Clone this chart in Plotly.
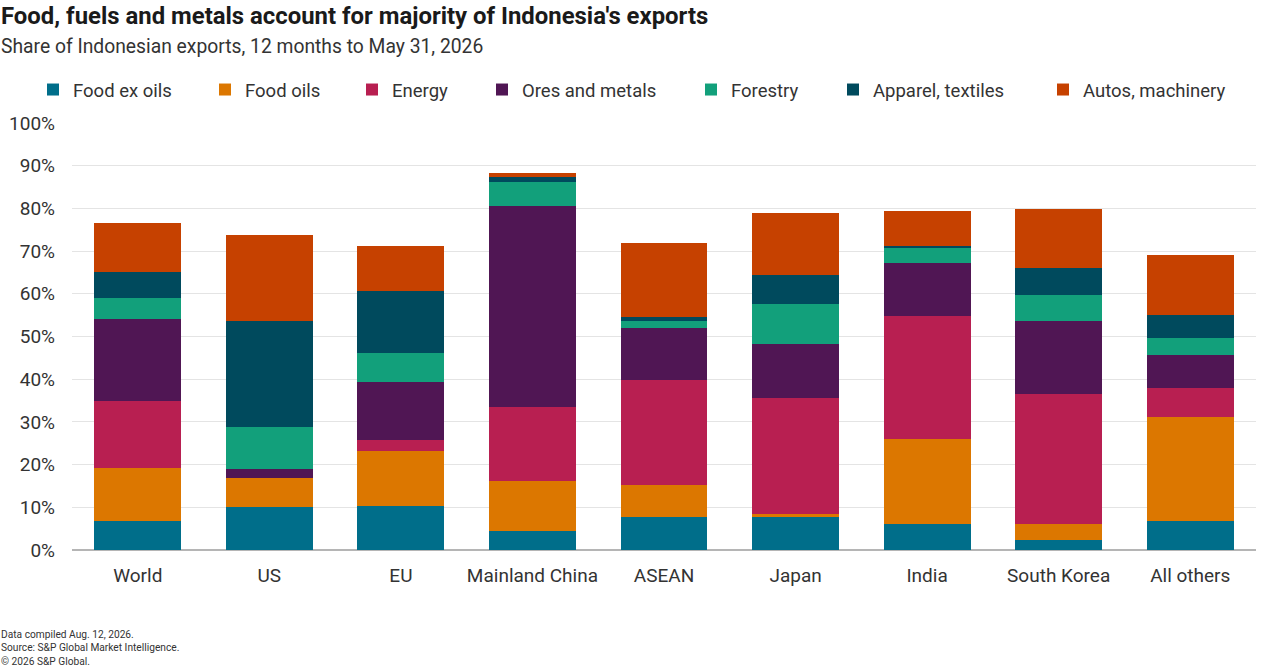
import plotly.graph_objects as go

categories = ["World", "US", "EU", "Mainland China", "ASEAN", "Japan", "India", "South Korea", "All others"]

food_ex_oils = [6.9, 10.0, 10.2, 4.5, 7.7, 7.7, 6.2, 2.4, 6.9]
food_oils = [12.4, 6.9, 13.1, 11.6, 7.5, 0.8, 19.7, 3.8, 24.3]
energy = [15.5, 0.0, 2.5, 17.5, 24.5, 27.1, 29.0, 30.3, 6.7]
ores_metals = [19.2, 2.0, 13.5, 47.0, 12.3, 12.7, 12.2, 17.2, 7.7]
forestry = [5.1, 9.8, 6.8, 5.7, 1.6, 9.2, 3.7, 6.0, 4.1]
apparel_textiles = [6.1, 25.0, 14.6, 1.1, 1.0, 6.8, 0.4, 6.4, 5.3]
autos_machinery = [11.4, 20.1, 10.6, 0.9, 17.2, 14.7, 8.1, 13.8, 14.1]

series_names = ["Food ex oils", "Food oils", "Energy", "Ores and metals", "Forestry", "Apparel, textiles", "Autos, machinery"]
series_values = [food_ex_oils, food_oils, energy, ores_metals, forestry, apparel_textiles, autos_machinery]
series_colors = ["#006E8A", "#DC7700", "#B81F51", "#501654", "#12A07B", "#004A5D", "#C64100"]

y_ticks = [0, 10, 20, 30, 40, 50, 60, 70, 80, 90, 100]
y_tick_labels = ["0%", "10%", "20%", "30%", "40%", "50%", "60%", "70%", "80%", "90%", "100%"]

FONT = "Roboto"
W, H = 1280, 670
ML, MR, MT, MB = 72, 24, 123, 120
PW = W - ML - MR
PH = H - MT - MB


def px_x(px):
    return (px - ML) / PW


def px_y(py):
    return 1 - (py - MT) / PH


# legend left edges (pixels), one legend per series
legend_left_px = [33, 205, 352, 482, 691, 833, 1043]

fig = go.Figure()
legend_ids = ["legend"] + ["legend%d" % i for i in range(2, 8)]
for name, vals, col, lid in zip(series_names, series_values, series_colors, legend_ids):
    fig.add_trace(go.Bar(
        x=categories, y=vals, name=name,
        marker=dict(color=col, line=dict(width=0)),
        legend=lid,
        hovertemplate="%{x}<br>" + name + ": %{y:.1f}%<extra></extra>",
    ))

fig.update_layout(
    barmode="stack",
    bargap=0.34,
    width=W, height=H,
    margin=dict(l=ML, r=MR, t=MT, b=MB, autoexpand=False),
    paper_bgcolor="white", plot_bgcolor="white",
    font=dict(family=FONT, color="#333333", size=18),
    showlegend=True,
    xaxis=dict(
        showgrid=False, ticks="", showline=False, automargin=False,
        tickfont=dict(size=19, color="#333333"),
        ticklabelstandoff=12,
    ),
    yaxis=dict(
        range=[0, 100], tickvals=y_ticks, ticktext=y_tick_labels,
        showgrid=True, gridcolor="#E4E4E4", gridwidth=1,
        zeroline=True, zerolinecolor="#B5B5B5", zerolinewidth=2,
        tickfont=dict(size=19, color="#333333"),
        ticklabelstandoff=16, automargin=False,
        fixedrange=True,
    ),
)

for lid, lx in zip(legend_ids, legend_left_px):
    fig.update_layout({lid: dict(
        orientation="h", x=px_x(lx), xanchor="left",
        y=px_y(90), yanchor="middle",
        font=dict(size=18.5, color="#333333", family=FONT),
        bgcolor="rgba(0,0,0,0)", borderwidth=0,
    )})

fig.add_annotation(
    text="<b>Food, fuels and metals account for majority of Indonesia's exports</b>",
    xref="paper", yref="paper", x=px_x(-1), y=px_y(16),
    showarrow=False, xanchor="left", yanchor="middle",
    font=dict(size=23.9, color="#1A1A1A", family=FONT),
)
fig.add_annotation(
    text="Share of Indonesian exports, 12 months to May 31, 2026",
    xref="paper", yref="paper", x=px_x(-1), y=px_y(46),
    showarrow=False, xanchor="left", yanchor="middle",
    font=dict(size=19.3, color="#333333", family=FONT),
)
fig.add_annotation(
    text="Data compiled Aug. 12, 2026.<br>Source: S&P Global Market Intelligence.<br>© 2026 S&P Global.",
    xref="paper", yref="paper", x=px_x(-1), y=px_y(648),
    showarrow=False, xanchor="left", yanchor="middle", align="left",
    font=dict(size=10.2, color="#333333", family=FONT),
)

fig.write_html(
    "out.html",
    config={"displayModeBar": False},
    post_script="document.body.style.margin='0';document.body.style.overflow='hidden';",
)
